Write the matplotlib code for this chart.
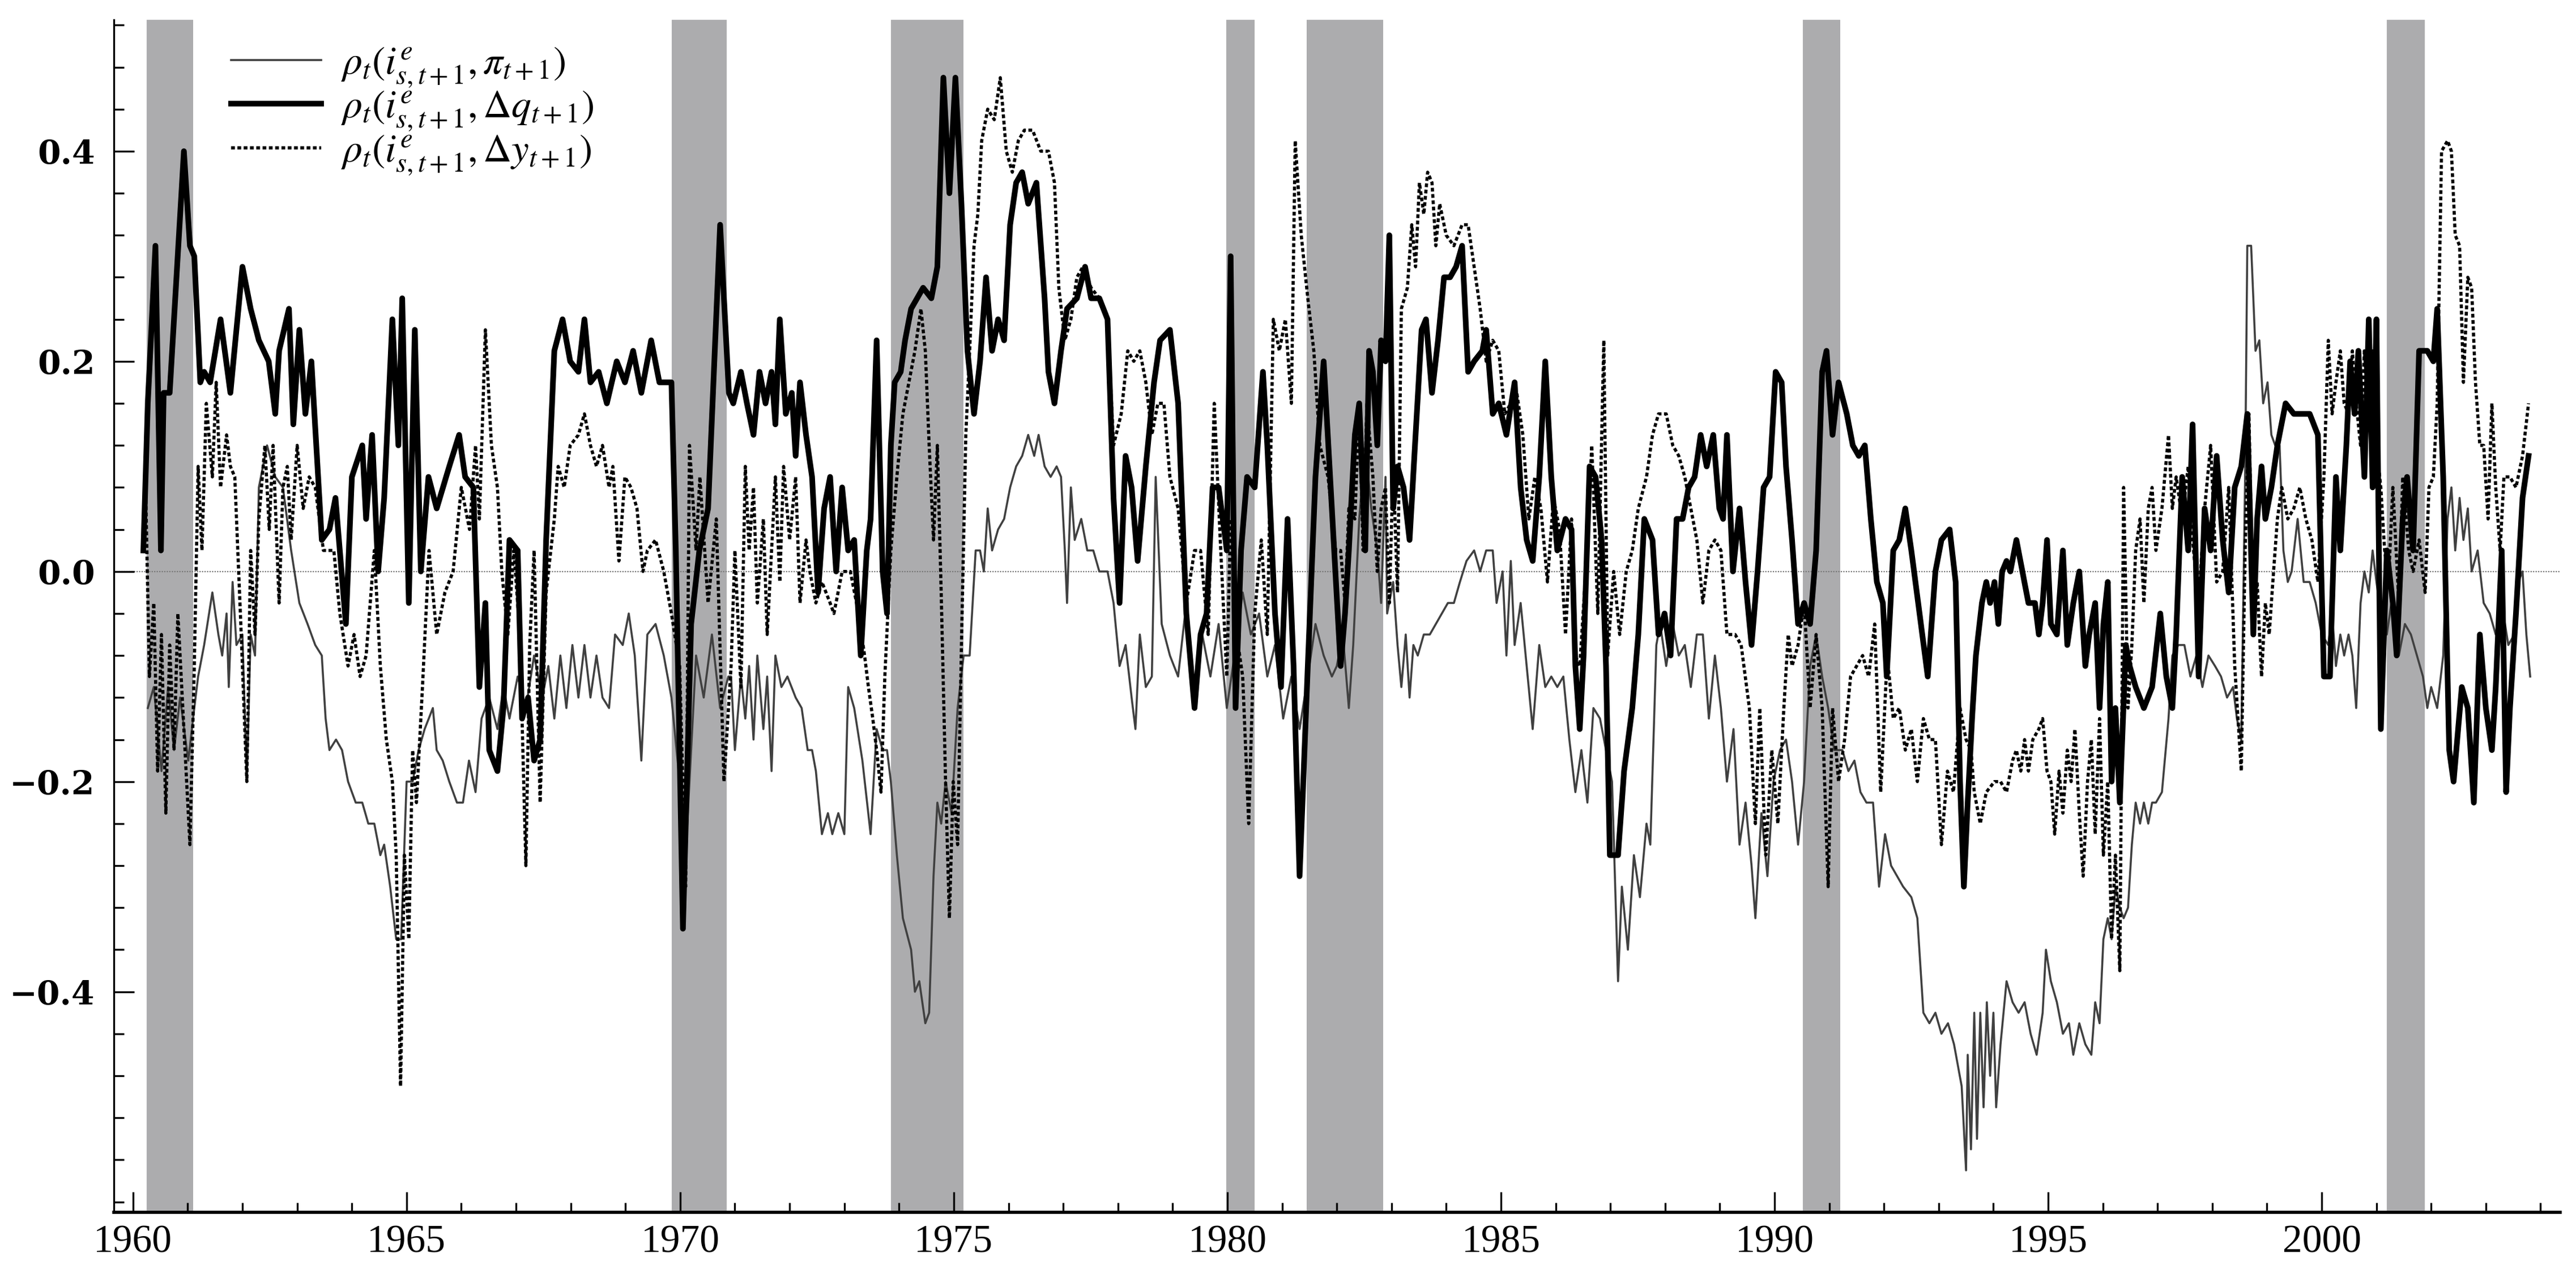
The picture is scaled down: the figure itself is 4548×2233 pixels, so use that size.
import matplotlib
matplotlib.use("Agg")
import matplotlib.pyplot as plt
from matplotlib.ticker import MultipleLocator, FixedLocator

plt.rcParams["font.family"] = ["Liberation Serif", "DejaVu Serif"]
plt.rcParams["mathtext.fontset"] = "stix"

# NBER recessions (shaded)
recessions = [(1960.25, 1961.10), (1969.85, 1970.85), (1973.85, 1975.18),
              (1979.98, 1980.50), (1981.45, 1982.85), (1990.52, 1991.20),
              (2001.19, 2001.88)]

# rho_t(i^e_{s,t+1}, pi_{t+1})  -- thin line
pi_pts = [
    (1960.27, -0.13), (1960.38, -0.11), (1960.52, -0.19), (1960.64, -0.11), (1960.75, -0.17),
    (1960.86, -0.12), (1961.01, -0.18), (1961.12, -0.13), (1961.19, -0.10), (1961.30, -0.07),
    (1961.45, -0.02), (1961.56, -0.06), (1961.63, -0.08), (1961.71, -0.04), (1961.75, -0.11),
    (1961.82, -0.01), (1961.89, -0.07), (1962.00, -0.06), (1962.08, -0.20), (1962.15, -0.06),
    (1962.23, -0.08), (1962.30, 0.08), (1962.45, 0.12), (1962.60, 0.09), (1962.74, 0.08),
    (1962.89, 0.02), (1963.04, -0.03), (1963.19, -0.05), (1963.33, -0.07), (1963.45, -0.08),
    (1963.52, -0.14), (1963.59, -0.17), (1963.71, -0.16), (1963.82, -0.17), (1963.93, -0.20),
    (1964.07, -0.22), (1964.19, -0.22), (1964.30, -0.24), (1964.41, -0.24), (1964.52, -0.27),
    (1964.59, -0.26), (1964.70, -0.30), (1964.81, -0.35), (1964.90, -0.35), (1965.00, -0.20),
    (1965.11, -0.20), (1965.22, -0.17), (1965.33, -0.15), (1965.48, -0.13), (1965.55, -0.17),
    (1965.66, -0.18), (1965.78, -0.20), (1965.92, -0.22), (1966.03, -0.22), (1966.14, -0.18),
    (1966.26, -0.21), (1966.37, -0.14), (1966.51, -0.12), (1966.66, -0.15), (1966.77, -0.11),
    (1966.88, -0.14), (1967.03, -0.10), (1967.18, -0.13), (1967.33, -0.08), (1967.48, -0.12),
    (1967.59, -0.09), (1967.70, -0.14), (1967.81, -0.08), (1967.92, -0.13), (1968.03, -0.07),
    (1968.14, -0.12), (1968.25, -0.07), (1968.36, -0.12), (1968.47, -0.08), (1968.58, -0.12),
    (1968.70, -0.13), (1968.81, -0.06), (1968.95, -0.07), (1969.06, -0.04), (1969.17, -0.08),
    (1969.29, -0.18), (1969.40, -0.06), (1969.55, -0.05), (1969.70, -0.08), (1969.84, -0.12),
    (1969.99, -0.20), (1970.10, -0.27), (1970.29, -0.08), (1970.43, -0.12), (1970.58, -0.06),
    (1970.73, -0.13), (1970.88, -0.10),
    (1970.93, -0.10), (1971.00, -0.17), (1971.11, -0.10), (1971.19, -0.14), (1971.26, -0.09),
    (1971.34, -0.16), (1971.41, -0.08), (1971.52, -0.15), (1971.59, -0.10), (1971.67, -0.19),
    (1971.74, -0.08), (1971.85, -0.11), (1971.96, -0.10), (1972.11, -0.12), (1972.22, -0.13),
    (1972.33, -0.17), (1972.41, -0.17), (1972.48, -0.19), (1972.59, -0.25), (1972.70, -0.23),
    (1972.78, -0.25), (1972.89, -0.23), (1973.00, -0.25), (1973.07, -0.11), (1973.18, -0.13),
    (1973.33, -0.18), (1973.48, -0.25), (1973.59, -0.15), (1973.70, -0.17), (1973.78, -0.17),
    (1973.85, -0.20), (1973.96, -0.27), (1974.07, -0.33), (1974.22, -0.36), (1974.29, -0.40),
    (1974.37, -0.39), (1974.48, -0.43), (1974.55, -0.42), (1974.63, -0.29), (1974.70, -0.22),
    (1974.77, -0.24), (1974.85, -0.20), (1974.96, -0.23), (1975.07, -0.13), (1975.18, -0.08),
    (1975.29, -0.08), (1975.40, 0.02), (1975.48, 0.02), (1975.55, 0.00), (1975.62, 0.06),
    (1975.70, 0.02), (1975.81, 0.04), (1975.92, 0.05), (1976.03, 0.08), (1976.14, 0.10),
    (1976.25, 0.11), (1976.36, 0.13), (1976.47, 0.11), (1976.55, 0.13), (1976.66, 0.10),
    (1976.77, 0.09), (1976.88, 0.10), (1976.96, 0.09), (1977.03, 0.02), (1977.07, -0.03),
    (1977.14, 0.08), (1977.21, 0.03), (1977.33, 0.05), (1977.44, 0.02), (1977.55, 0.02),
    (1977.66, 0.00), (1977.81, 0.00), (1977.92, -0.03), (1978.03, -0.09), (1978.14, -0.07),
    (1978.25, -0.12), (1978.32, -0.15), (1978.40, -0.06), (1978.51, -0.11), (1978.62, -0.10),
    (1978.69, 0.09), (1978.80, -0.05), (1978.95, -0.08), (1979.10, -0.10), (1979.25, -0.03),
    (1979.40, -0.12), (1979.54, -0.06), (1979.69, -0.10), (1979.84, -0.05), (1979.99, -0.13),
    (1980.13, -0.08), (1980.28, -0.02), (1980.43, -0.06), (1980.58, -0.04), (1980.73, -0.10),
    (1980.87, -0.07), (1981.02, -0.14), (1981.17, -0.10), (1981.32, -0.15), (1981.47, -0.10),
    (1981.61, -0.05), (1981.76, -0.08), (1981.91, -0.10),
    (1982.00, -0.09), (1982.11, -0.06), (1982.22, -0.13), (1982.30, -0.07), (1982.41, 0.05),
    (1982.52, 0.12), (1982.63, 0.06), (1982.74, 0.02), (1982.81, -0.03), (1982.89, 0.09),
    (1982.92, -0.04), (1983.03, -0.01), (1983.11, -0.07), (1983.18, -0.11), (1983.26, -0.06),
    (1983.33, -0.12), (1983.40, -0.07), (1983.48, -0.08), (1983.59, -0.06), (1983.70, -0.06),
    (1983.81, -0.05), (1983.92, -0.04), (1984.03, -0.03), (1984.14, -0.03), (1984.25, -0.01),
    (1984.37, 0.01), (1984.51, 0.02), (1984.62, 0.00), (1984.73, 0.02), (1984.85, 0.02),
    (1984.92, -0.03), (1985.03, 0.00), (1985.10, -0.08), (1985.18, 0.01), (1985.25, -0.07),
    (1985.36, -0.03), (1985.47, -0.09), (1985.58, -0.15), (1985.70, -0.07), (1985.81, -0.11),
    (1985.92, -0.10), (1986.03, -0.11), (1986.14, -0.10), (1986.25, -0.16), (1986.36, -0.21),
    (1986.47, -0.17), (1986.58, -0.22), (1986.69, -0.13), (1986.81, -0.14), (1986.92, -0.17),
    (1987.03, -0.20), (1987.14, -0.39), (1987.21, -0.30), (1987.32, -0.36), (1987.43, -0.27),
    (1987.54, -0.31), (1987.66, -0.24), (1987.73, -0.26), (1987.84, -0.07), (1987.91, -0.05),
    (1988.02, -0.09), (1988.14, -0.05), (1988.25, -0.08), (1988.36, -0.07), (1988.47, -0.11),
    (1988.58, -0.06), (1988.69, -0.06), (1988.80, -0.14), (1988.91, -0.08), (1989.02, -0.13),
    (1989.13, -0.20), (1989.25, -0.15), (1989.36, -0.26), (1989.47, -0.22), (1989.58, -0.28),
    (1989.65, -0.33), (1989.76, -0.23), (1989.87, -0.29), (1989.98, -0.20), (1990.10, -0.17),
    (1990.21, -0.16), (1990.32, -0.20), (1990.43, -0.26), (1990.54, -0.20), (1990.65, -0.09),
    (1990.76, -0.06), (1990.87, -0.10), (1990.98, -0.13), (1991.09, -0.17), (1991.24, -0.17),
    (1991.35, -0.19), (1991.46, -0.18), (1991.57, -0.21), (1991.68, -0.22), (1991.80, -0.22),
    (1991.91, -0.30), (1992.02, -0.25), (1992.13, -0.28), (1992.24, -0.29), (1992.35, -0.30),
    (1992.50, -0.31), (1992.61, -0.33), (1992.72, -0.42), (1992.83, -0.43), (1992.94, -0.42),
    (1993.05, -0.44), (1993.17, -0.43), (1993.28, -0.45),
    (1993.42, -0.49), (1993.50, -0.57), (1993.53, -0.46), (1993.59, -0.55), (1993.65, -0.42),
    (1993.70, -0.54), (1993.76, -0.42), (1993.82, -0.51), (1993.88, -0.41), (1993.94, -0.48),
    (1994.00, -0.42), (1994.05, -0.51), (1994.13, -0.45), (1994.24, -0.39), (1994.35, -0.41),
    (1994.46, -0.42), (1994.57, -0.41), (1994.68, -0.44), (1994.79, -0.46), (1994.90, -0.42),
    (1994.96, -0.36), (1995.05, -0.39), (1995.16, -0.41), (1995.27, -0.44), (1995.38, -0.43),
    (1995.46, -0.46), (1995.57, -0.43), (1995.68, -0.45), (1995.79, -0.46), (1995.86, -0.41),
    (1995.94, -0.43), (1996.01, -0.35), (1996.09, -0.33), (1996.16, -0.35), (1996.23, -0.30),
    (1996.31, -0.32), (1996.38, -0.33), (1996.46, -0.32), (1996.53, -0.26), (1996.60, -0.22),
    (1996.68, -0.24), (1996.75, -0.22), (1996.83, -0.24), (1996.90, -0.22), (1996.97, -0.22),
    (1997.08, -0.21), (1997.20, -0.14), (1997.27, -0.08), (1997.38, -0.07), (1997.49, -0.07),
    (1997.60, -0.10), (1997.71, -0.08), (1997.82, -0.11), (1997.93, -0.08), (1998.05, -0.09),
    (1998.16, -0.10), (1998.27, -0.12), (1998.38, -0.11), (1998.45, -0.14), (1998.53, -0.16),
    (1998.60, 0.09), (1998.64, 0.31), (1998.71, 0.31), (1998.79, 0.21), (1998.86, 0.22),
    (1998.93, 0.16), (1999.01, 0.18), (1999.08, 0.13), (1999.15, 0.12), (1999.23, 0.12),
    (1999.30, 0.02), (1999.38, -0.01), (1999.45, 0.00), (1999.56, 0.05), (1999.67, -0.01),
    (1999.78, -0.01), (1999.89, -0.03), (2000.00, -0.06), (2000.12, -0.07), (2000.19, -0.04),
    (2000.26, -0.09), (2000.34, -0.06), (2000.41, -0.08), (2000.49, -0.06), (2000.56, -0.08),
    (2000.63, -0.13), (2000.71, -0.03), (2000.78, 0.00), (2000.86, -0.02), (2000.93, 0.02),
    (2001.00, -0.01), (2001.08, -0.04), (2001.19, -0.06), (2001.30, -0.02), (2001.41, -0.08),
    (2001.52, -0.05), (2001.63, -0.06), (2001.74, -0.08), (2001.85, -0.10), (2001.93, -0.13),
    (2002.00, -0.11), (2002.11, -0.13), (2002.22, -0.08), (2002.30, 0.05), (2002.37, 0.08),
    (2002.44, 0.02), (2002.52, 0.07), (2002.59, 0.03), (2002.67, 0.06), (2002.74, 0.00),
    (2002.85, 0.02), (2002.96, -0.03), (2003.07, -0.04), (2003.18, -0.06), (2003.29, -0.03),
    (2003.41, -0.07), (2003.52, -0.06), (2003.59, -0.01), (2003.67, 0.00), (2003.74, -0.06),
    (2003.81, -0.10),
]

# rho_t(i^e_{s,t+1}, dq_{t+1})  -- thick solid line
dq_pts = [
    (1960.19, 0.02), (1960.27, 0.16), (1960.41, 0.31), (1960.51, 0.02), (1960.56, 0.17),
    (1960.67, 0.17), (1960.93, 0.40), (1961.04, 0.31), (1961.12, 0.30), (1961.23, 0.18),
    (1961.30, 0.19), (1961.41, 0.18), (1961.60, 0.24), (1961.78, 0.17), (1962.00, 0.29),
    (1962.15, 0.25), (1962.30, 0.22), (1962.48, 0.20), (1962.60, 0.15), (1962.67, 0.21),
    (1962.85, 0.25), (1962.93, 0.14), (1963.04, 0.23), (1963.15, 0.15), (1963.26, 0.20),
    (1963.45, 0.03), (1963.59, 0.04), (1963.70, 0.07), (1963.89, -0.05), (1964.00, 0.09),
    (1964.19, 0.12), (1964.26, 0.05), (1964.37, 0.13), (1964.48, 0.00), (1964.59, 0.07),
    (1964.74, 0.24), (1964.85, 0.12), (1964.92, 0.26), (1965.04, -0.03), (1965.15, 0.23),
    (1965.26, 0.00), (1965.40, 0.09), (1965.55, 0.06), (1965.78, 0.10), (1965.96, 0.13),
    (1966.07, 0.09), (1966.22, 0.08), (1966.33, -0.11), (1966.44, -0.03), (1966.51, -0.17),
    (1966.66, -0.19), (1966.77, -0.13), (1966.88, 0.03), (1967.03, 0.02), (1967.11, -0.14),
    (1967.22, -0.12), (1967.33, -0.18), (1967.44, -0.16), (1967.55, 0.03), (1967.70, 0.21),
    (1967.85, 0.24), (1967.99, 0.20), (1968.14, 0.19), (1968.25, 0.24), (1968.36, 0.18),
    (1968.51, 0.19), (1968.66, 0.16), (1968.84, 0.20), (1968.99, 0.18), (1969.14, 0.21),
    (1969.29, 0.17), (1969.47, 0.22), (1969.62, 0.18), (1969.84, 0.18), (1969.92, 0.02),
    (1970.05, -0.34), (1970.20, -0.05), (1970.35, 0.02), (1970.51, 0.06), (1970.73, 0.33),
    (1970.89, 0.17), (1970.97, 0.16), (1971.11, 0.19), (1971.22, 0.16), (1971.34, 0.13),
    (1971.45, 0.19), (1971.56, 0.16), (1971.67, 0.19), (1971.74, 0.14), (1971.82, 0.24),
    (1971.93, 0.15), (1972.04, 0.17), (1972.11, 0.11), (1972.19, 0.18), (1972.30, 0.13),
    (1972.41, 0.09), (1972.52, -0.02), (1972.63, 0.06), (1972.74, 0.09), (1972.85, 0.00),
    (1972.96, 0.08), (1973.07, 0.02), (1973.18, 0.03), (1973.30, -0.08), (1973.41, 0.02),
    (1973.48, 0.05), (1973.59, 0.22), (1973.70, 0.00), (1973.78, -0.04), (1973.85, 0.12),
    (1973.92, 0.18), (1974.03, 0.19), (1974.11, 0.22), (1974.22, 0.25), (1974.33, 0.26),
    (1974.44, 0.27), (1974.59, 0.26), (1974.70, 0.29), (1974.81, 0.47), (1974.92, 0.36),
    (1975.03, 0.47), (1975.14, 0.35), (1975.25, 0.21), (1975.37, 0.15), (1975.48, 0.20),
    (1975.59, 0.28), (1975.70, 0.21), (1975.81, 0.24), (1975.92, 0.22), (1976.03, 0.33),
    (1976.14, 0.37), (1976.25, 0.38), (1976.36, 0.35), (1976.51, 0.37), (1976.66, 0.26),
    (1976.73, 0.19), (1976.84, 0.16), (1976.96, 0.21), (1977.07, 0.25), (1977.25, 0.26),
    (1977.40, 0.29), (1977.51, 0.26), (1977.66, 0.26), (1977.81, 0.24), (1977.92, 0.07),
    (1978.03, -0.03), (1978.14, 0.11), (1978.25, 0.08), (1978.36, 0.01), (1978.51, 0.10),
    (1978.66, 0.18), (1978.77, 0.22), (1978.95, 0.23), (1979.10, 0.16), (1979.25, -0.04),
    (1979.40, -0.13), (1979.51, -0.06), (1979.62, -0.04), (1979.73, 0.08), (1979.84, 0.08),
    (1979.99, 0.02), (1980.06, 0.30), (1980.15, -0.13), (1980.25, 0.02), (1980.36, 0.09),
    (1980.50, 0.08), (1980.65, 0.19), (1980.73, 0.12), (1980.87, -0.04), (1980.98, -0.11),
    (1981.10, 0.05), (1981.21, -0.09), (1981.32, -0.29), (1981.47, -0.09), (1981.61, 0.09),
    (1981.76, 0.20), (1981.91, 0.06),
    (1982.07, -0.09), (1982.15, -0.04), (1982.22, 0.02), (1982.33, 0.13), (1982.41, 0.16),
    (1982.52, 0.02), (1982.59, 0.21), (1982.66, 0.19), (1982.74, 0.12), (1982.81, 0.22),
    (1982.89, 0.20), (1982.96, 0.32), (1983.03, 0.06), (1983.11, 0.10), (1983.22, 0.08),
    (1983.33, 0.03), (1983.44, 0.13), (1983.55, 0.23), (1983.63, 0.24), (1983.74, 0.17),
    (1983.85, 0.22), (1983.96, 0.28), (1984.07, 0.28), (1984.18, 0.29), (1984.29, 0.31),
    (1984.40, 0.19), (1984.51, 0.20), (1984.66, 0.21), (1984.73, 0.23), (1984.85, 0.15),
    (1984.96, 0.16), (1985.10, 0.13), (1985.25, 0.18), (1985.36, 0.08), (1985.47, 0.03),
    (1985.58, 0.01), (1985.70, 0.09), (1985.81, 0.20), (1985.92, 0.09), (1986.03, 0.02),
    (1986.18, 0.05), (1986.29, 0.04), (1986.36, -0.09), (1986.44, -0.15), (1986.51, -0.08),
    (1986.62, 0.10), (1986.73, 0.09), (1986.84, 0.03), (1986.92, -0.09), (1986.99, -0.27),
    (1987.14, -0.27), (1987.25, -0.19), (1987.40, -0.13), (1987.51, -0.06), (1987.62, 0.05),
    (1987.77, 0.03), (1987.88, -0.06), (1987.99, -0.04), (1988.10, -0.08), (1988.21, 0.05),
    (1988.32, 0.05), (1988.43, 0.08), (1988.54, 0.09), (1988.65, 0.13), (1988.76, 0.10),
    (1988.88, 0.13), (1988.99, 0.06), (1989.06, 0.05), (1989.13, 0.13), (1989.24, 0.00),
    (1989.36, 0.06), (1989.47, -0.01), (1989.58, -0.07), (1989.69, 0.00), (1989.80, 0.08),
    (1989.91, 0.09), (1990.02, 0.19), (1990.13, 0.18), (1990.21, 0.10), (1990.32, 0.03),
    (1990.43, -0.05), (1990.54, -0.03), (1990.65, -0.05), (1990.76, 0.02), (1990.87, 0.19),
    (1990.95, 0.21), (1991.06, 0.13), (1991.17, 0.18), (1991.32, 0.15), (1991.43, 0.12),
    (1991.54, 0.11), (1991.65, 0.12), (1991.76, 0.05), (1991.87, -0.01), (1991.98, -0.03),
    (1992.05, -0.10), (1992.17, 0.02), (1992.28, 0.03), (1992.39, 0.06), (1992.50, 0.02),
    (1992.65, -0.04), (1992.80, -0.10), (1992.94, 0.00), (1993.05, 0.03), (1993.20, 0.04),
    (1993.31, -0.01),
    (1993.39, -0.20), (1993.46, -0.30), (1993.53, -0.22), (1993.61, -0.14), (1993.68, -0.08),
    (1993.79, -0.03), (1993.87, -0.01), (1993.94, -0.03), (1994.02, -0.01), (1994.09, -0.05),
    (1994.16, 0.00), (1994.24, 0.01), (1994.31, 0.00), (1994.42, 0.03), (1994.53, 0.00),
    (1994.64, -0.03), (1994.76, -0.03), (1994.83, -0.06), (1994.90, -0.03), (1994.98, 0.03),
    (1995.05, -0.05), (1995.16, -0.06), (1995.27, 0.02), (1995.35, -0.07), (1995.46, -0.03),
    (1995.57, 0.00), (1995.68, -0.09), (1995.75, -0.06), (1995.86, -0.03), (1995.94, -0.13),
    (1996.01, -0.05), (1996.09, -0.01), (1996.16, -0.20), (1996.23, -0.13), (1996.31, -0.22),
    (1996.42, -0.07), (1996.49, -0.09), (1996.60, -0.11), (1996.75, -0.13), (1996.90, -0.11),
    (1997.05, -0.04), (1997.16, -0.10), (1997.27, -0.13), (1997.34, -0.06), (1997.45, 0.09),
    (1997.56, 0.02), (1997.64, 0.14), (1997.75, -0.10), (1997.86, 0.06), (1997.97, 0.02),
    (1998.08, 0.11), (1998.19, 0.03), (1998.30, -0.02), (1998.41, 0.08), (1998.53, 0.10),
    (1998.64, 0.15), (1998.75, -0.06), (1998.82, 0.05), (1998.90, 0.10), (1998.97, 0.05),
    (1999.08, 0.08), (1999.19, 0.12), (1999.34, 0.16), (1999.49, 0.15), (1999.64, 0.15),
    (1999.78, 0.15), (1999.93, 0.13), (2000.04, -0.10), (2000.15, -0.10), (2000.26, 0.09),
    (2000.34, 0.02), (2000.45, 0.12), (2000.52, 0.20), (2000.60, 0.15), (2000.67, 0.21),
    (2000.78, 0.09), (2000.86, 0.24), (2000.93, 0.08), (2001.00, 0.24), (2001.08, -0.15),
    (2001.19, 0.02), (2001.30, -0.03), (2001.37, -0.08), (2001.48, 0.05), (2001.56, 0.09),
    (2001.67, 0.02), (2001.78, 0.21), (2001.93, 0.21), (2002.04, 0.20), (2002.11, 0.25),
    (2002.22, 0.09), (2002.33, -0.17), (2002.41, -0.20), (2002.56, -0.11), (2002.67, -0.13),
    (2002.78, -0.22), (2002.89, -0.06), (2003.00, -0.13), (2003.11, -0.17), (2003.18, -0.11),
    (2003.29, 0.02), (2003.37, -0.21), (2003.44, -0.13), (2003.55, -0.04), (2003.67, 0.07),
    (2003.78, 0.11),
]

# rho_t(i^e_{s,t+1}, dy_{t+1})  -- dotted line
dy_pts = [
    (1960.23, 0.08), (1960.30, -0.10), (1960.38, -0.03), (1960.45, -0.19), (1960.52, -0.06),
    (1960.60, -0.23), (1960.67, -0.07), (1960.75, -0.17), (1960.82, -0.04), (1960.93, -0.15),
    (1961.04, -0.26), (1961.12, -0.09), (1961.19, 0.10), (1961.26, 0.02), (1961.34, 0.16),
    (1961.45, 0.09), (1961.52, 0.18), (1961.60, 0.08), (1961.71, 0.13), (1961.78, 0.10),
    (1961.86, 0.09), (1961.97, -0.05), (1962.08, -0.20), (1962.15, 0.02), (1962.23, -0.06),
    (1962.30, 0.05), (1962.41, 0.12), (1962.49, 0.04), (1962.56, 0.12), (1962.67, -0.03),
    (1962.74, 0.08), (1962.82, 0.10), (1962.89, 0.03), (1963.00, 0.12), (1963.11, 0.06),
    (1963.22, 0.09), (1963.33, 0.08), (1963.48, 0.02), (1963.67, 0.02), (1963.78, -0.04),
    (1963.93, -0.09), (1964.04, -0.06), (1964.15, -0.10), (1964.26, -0.08), (1964.41, 0.02),
    (1964.52, -0.09), (1964.63, -0.16), (1964.74, -0.20), (1964.81, -0.27), (1964.89, -0.49),
    (1964.96, -0.27), (1965.04, -0.35), (1965.11, -0.17), (1965.18, -0.22), (1965.29, -0.11),
    (1965.41, 0.02), (1965.55, -0.06), (1965.70, -0.02), (1965.85, 0.00), (1966.00, 0.08),
    (1966.15, 0.04), (1966.26, 0.12), (1966.33, 0.05), (1966.44, 0.23), (1966.55, 0.12),
    (1966.66, 0.08), (1966.74, 0.00), (1966.85, -0.06), (1966.96, 0.02), (1967.07, -0.06),
    (1967.18, -0.28), (1967.25, -0.07), (1967.33, 0.02), (1967.44, -0.22), (1967.55, -0.02),
    (1967.70, 0.05), (1967.77, 0.10), (1967.88, 0.08), (1967.99, 0.12), (1968.14, 0.13),
    (1968.25, 0.15), (1968.36, 0.12), (1968.47, 0.10), (1968.58, 0.12), (1968.70, 0.08),
    (1968.77, 0.10), (1968.88, 0.01), (1968.99, 0.09), (1969.10, 0.08), (1969.21, 0.06),
    (1969.32, 0.00), (1969.40, 0.02), (1969.55, 0.03), (1969.70, 0.00), (1969.84, -0.04),
    (1969.99, -0.09), (1970.10, -0.30), (1970.17, 0.12), (1970.29, 0.02), (1970.36, 0.09),
    (1970.51, -0.03), (1970.66, 0.05), (1970.80, -0.20),
    (1970.93, -0.09), (1971.00, 0.02), (1971.11, -0.11), (1971.19, 0.10), (1971.26, 0.02),
    (1971.34, 0.08), (1971.41, -0.03), (1971.52, 0.05), (1971.59, -0.06), (1971.67, 0.02),
    (1971.74, 0.09), (1971.82, -0.01), (1971.89, 0.10), (1972.00, 0.03), (1972.11, 0.09),
    (1972.19, -0.03), (1972.30, 0.03), (1972.37, 0.00), (1972.48, -0.03), (1972.59, -0.01),
    (1972.74, -0.03), (1972.81, -0.04), (1972.96, 0.00), (1973.11, 0.00), (1973.26, -0.04),
    (1973.37, -0.08), (1973.44, -0.11), (1973.52, -0.14), (1973.59, -0.17), (1973.67, -0.21),
    (1973.74, -0.10), (1973.85, 0.02), (1973.96, 0.09), (1974.07, 0.15), (1974.18, 0.18),
    (1974.29, 0.21), (1974.40, 0.25), (1974.48, 0.21), (1974.55, 0.12), (1974.63, 0.03),
    (1974.70, 0.12), (1974.77, -0.02), (1974.85, -0.20), (1974.92, -0.33), (1974.99, -0.20),
    (1975.07, -0.26), (1975.14, -0.07), (1975.22, 0.13), (1975.29, 0.21), (1975.37, 0.31),
    (1975.44, 0.34), (1975.51, 0.41), (1975.62, 0.44), (1975.74, 0.43), (1975.85, 0.47),
    (1975.96, 0.40), (1976.07, 0.38), (1976.18, 0.41), (1976.29, 0.42), (1976.44, 0.42),
    (1976.59, 0.40), (1976.73, 0.40), (1976.84, 0.37), (1976.92, 0.27), (1977.03, 0.22),
    (1977.14, 0.24), (1977.25, 0.28), (1977.36, 0.29), (1977.51, 0.27), (1977.66, 0.26),
    (1977.81, 0.24), (1977.92, 0.12), (1978.06, 0.15), (1978.18, 0.21), (1978.29, 0.20),
    (1978.40, 0.21), (1978.51, 0.18), (1978.62, 0.13), (1978.73, 0.16), (1978.84, 0.16),
    (1978.95, 0.09), (1979.10, 0.06), (1979.25, -0.03), (1979.40, 0.02), (1979.51, 0.02),
    (1979.65, -0.06), (1979.76, 0.16), (1979.87, 0.03), (1979.99, -0.10), (1980.06, 0.05),
    (1980.17, -0.06), (1980.28, -0.10), (1980.39, -0.24), (1980.50, -0.04), (1980.62, 0.03),
    (1980.73, -0.06), (1980.84, 0.24), (1980.95, 0.21), (1981.06, 0.24), (1981.17, 0.16),
    (1981.24, 0.41), (1981.35, 0.32), (1981.47, 0.26), (1981.58, 0.21), (1981.69, 0.12),
    (1981.84, 0.09), (1981.98, 0.02),
    (1982.07, 0.02), (1982.15, -0.03), (1982.22, 0.06), (1982.33, 0.05), (1982.41, 0.16),
    (1982.48, 0.02), (1982.55, 0.16), (1982.66, 0.09), (1982.74, 0.00), (1982.81, 0.06),
    (1982.89, 0.08), (1982.96, -0.03), (1983.03, 0.10), (1983.11, -0.02), (1983.18, 0.25),
    (1983.29, 0.27), (1983.37, 0.33), (1983.44, 0.29), (1983.51, 0.37), (1983.59, 0.34),
    (1983.66, 0.38), (1983.74, 0.37), (1983.81, 0.31), (1983.88, 0.35), (1984.00, 0.32),
    (1984.14, 0.31), (1984.29, 0.33), (1984.40, 0.33), (1984.51, 0.29), (1984.62, 0.25),
    (1984.73, 0.20), (1984.85, 0.22), (1984.96, 0.21), (1985.07, 0.15), (1985.18, 0.16),
    (1985.29, 0.17), (1985.40, 0.13), (1985.51, 0.05), (1985.62, 0.09), (1985.73, 0.06),
    (1985.85, -0.01), (1985.96, 0.07), (1986.07, 0.04), (1986.18, -0.06), (1986.29, 0.05),
    (1986.36, -0.08), (1986.44, -0.09), (1986.55, 0.00), (1986.66, 0.12), (1986.77, -0.04),
    (1986.88, 0.22), (1986.95, -0.08), (1987.06, 0.00), (1987.17, -0.06), (1987.29, 0.00),
    (1987.40, 0.02), (1987.51, 0.06), (1987.66, 0.09), (1987.77, 0.13), (1987.88, 0.15),
    (1988.02, 0.15), (1988.14, 0.12), (1988.25, 0.11), (1988.36, 0.09), (1988.47, 0.06),
    (1988.58, 0.03), (1988.69, -0.03), (1988.80, 0.02), (1988.91, 0.03), (1989.02, 0.02),
    (1989.13, -0.06), (1989.28, -0.06), (1989.39, -0.07), (1989.54, -0.13), (1989.65, -0.24),
    (1989.73, -0.13), (1989.84, -0.27), (1989.95, -0.17), (1990.06, -0.24), (1990.17, -0.13),
    (1990.25, -0.06), (1990.32, -0.09), (1990.43, -0.07), (1990.54, -0.03), (1990.65, -0.13),
    (1990.76, -0.06), (1990.87, -0.13), (1990.98, -0.30), (1991.06, -0.13), (1991.17, -0.20),
    (1991.28, -0.16), (1991.39, -0.10), (1991.50, -0.09), (1991.61, -0.08), (1991.72, -0.10),
    (1991.83, -0.05), (1991.94, -0.21), (1992.06, -0.08), (1992.17, -0.14), (1992.28, -0.13),
    (1992.39, -0.17), (1992.50, -0.15), (1992.61, -0.20), (1992.72, -0.14), (1992.83, -0.16),
    (1992.94, -0.16), (1993.05, -0.26), (1993.16, -0.19), (1993.27, -0.21), (1993.39, -0.13),
    (1993.50, -0.16), (1993.59, -0.17),
    (1993.65, -0.21), (1993.76, -0.24), (1993.87, -0.21), (1994.02, -0.20), (1994.13, -0.20),
    (1994.24, -0.21), (1994.35, -0.18), (1994.42, -0.17), (1994.50, -0.19), (1994.57, -0.16),
    (1994.64, -0.19), (1994.72, -0.16), (1994.83, -0.15), (1994.90, -0.14), (1994.98, -0.19),
    (1995.05, -0.20), (1995.12, -0.25), (1995.20, -0.19), (1995.27, -0.23), (1995.35, -0.17),
    (1995.42, -0.20), (1995.49, -0.15), (1995.57, -0.23), (1995.64, -0.29), (1995.72, -0.20),
    (1995.79, -0.16), (1995.86, -0.25), (1995.94, -0.14), (1996.01, -0.27), (1996.09, -0.20),
    (1996.16, -0.35), (1996.23, -0.27), (1996.31, -0.38), (1996.38, 0.08), (1996.46, -0.13),
    (1996.53, -0.07), (1996.60, 0.02), (1996.68, 0.05), (1996.75, -0.03), (1996.83, 0.06),
    (1996.90, 0.08), (1996.97, 0.02), (1997.08, 0.06), (1997.20, 0.13), (1997.27, 0.06),
    (1997.34, 0.09), (1997.45, 0.05), (1997.56, 0.10), (1997.64, 0.03), (1997.75, -0.03),
    (1997.86, 0.06), (1997.97, 0.12), (1998.08, -0.01), (1998.19, 0.00), (1998.30, 0.08),
    (1998.41, -0.09), (1998.53, -0.19), (1998.60, 0.02), (1998.67, 0.15), (1998.75, -0.06),
    (1998.82, -0.01), (1998.90, -0.10), (1998.97, -0.03), (1999.04, -0.06), (1999.12, 0.00),
    (1999.19, 0.05), (1999.27, 0.08), (1999.38, 0.05), (1999.49, 0.06), (1999.60, 0.08),
    (1999.71, 0.05), (1999.82, 0.03), (1999.93, -0.01), (2000.04, 0.09), (2000.12, 0.22),
    (2000.19, 0.15), (2000.26, 0.18), (2000.34, 0.21), (2000.41, 0.16), (2000.49, 0.15),
    (2000.56, 0.21), (2000.63, 0.16), (2000.71, 0.12), (2000.78, 0.21), (2000.86, 0.15),
    (2000.93, 0.21), (2001.00, 0.12), (2001.08, 0.08), (2001.15, 0.02), (2001.22, -0.01),
    (2001.30, 0.08), (2001.41, -0.03), (2001.48, 0.09), (2001.59, 0.02), (2001.67, 0.00),
    (2001.78, 0.03), (2001.89, -0.02), (2001.96, 0.08), (2002.04, 0.09), (2002.11, 0.16),
    (2002.19, 0.40), (2002.30, 0.41), (2002.37, 0.40), (2002.44, 0.32), (2002.52, 0.31),
    (2002.59, 0.18), (2002.67, 0.28), (2002.74, 0.27), (2002.81, 0.18), (2002.89, 0.12),
    (2002.96, 0.12), (2003.04, 0.05), (2003.11, 0.16), (2003.18, 0.08), (2003.26, 0.02),
    (2003.33, 0.09), (2003.44, 0.09), (2003.55, 0.08), (2003.67, 0.11), (2003.78, 0.16),
]

labels = [r"$\rho_t(i^e_{s,t+1},\pi_{t+1})$",
          r"$\rho_t(i^e_{s,t+1},\Delta q_{t+1})$",
          r"$\rho_t(i^e_{s,t+1},\Delta y_{t+1})$"]

fig = plt.figure(figsize=(22.74, 11.165), dpi=200)
ax = fig.add_axes([0.0442, 0.0416, 0.9497, 0.9427])

for a, b in recessions:
    ax.axvspan(a, b, color="#acacae", lw=0, zorder=0)

ax.axhline(0, color="#777777", lw=0.8, ls=(0, (1, 1)), zorder=1)

pi_x, pi_y = zip(*pi_pts)
dq_x, dq_y = zip(*dq_pts)
dy_x, dy_y = zip(*dy_pts)

l1, = ax.plot(pi_x, pi_y, color="#404040", lw=1.3, zorder=2)
l3, = ax.plot(dy_x, dy_y, color="black", lw=2.0, ls=(0, (1.2, 0.8)), zorder=3)
l2, = ax.plot(dq_x, dq_y, color="black", lw=3.6, zorder=4)

ax.legend([l1, l2, l3], labels, loc="upper left", bbox_to_anchor=(0.035, 1.005),
          frameon=False, fontsize=25, handlelength=2.3, handletextpad=0.5,
          labelspacing=0.0, borderpad=0.3)

ax.set_xlim(1959.65, 2004.36)
ax.set_ylim(-0.61, 0.525)

ax.xaxis.set_major_locator(MultipleLocator(5))
ax.xaxis.set_minor_locator(MultipleLocator(1))
ax.yaxis.set_major_locator(FixedLocator([-0.4, -0.2, 0.0, 0.2, 0.4]))
ax.yaxis.set_minor_locator(MultipleLocator(0.04))
ax.yaxis.set_major_formatter(plt.FuncFormatter(lambda v, p: f"{v:.1f}".replace("-", "\u2212")))

ax.tick_params(axis="both", which="both", direction="in", width=1.2)
ax.tick_params(axis="x", which="major", length=13, pad=8, labelsize=25)
ax.tick_params(axis="x", which="minor", length=6)
ax.tick_params(axis="y", which="major", length=13, pad=12, labelsize=21)
ax.tick_params(axis="y", which="minor", length=6.5)
for lab in ax.get_yticklabels():
    lab.set_fontfamily("DejaVu Serif")
    lab.set_fontweight("bold")

ax.spines["top"].set_visible(False)
ax.spines["right"].set_visible(False)
ax.spines["left"].set_linewidth(1.2)
ax.spines["bottom"].set_linewidth(2.0)

fig.savefig("out.png", dpi=200)
